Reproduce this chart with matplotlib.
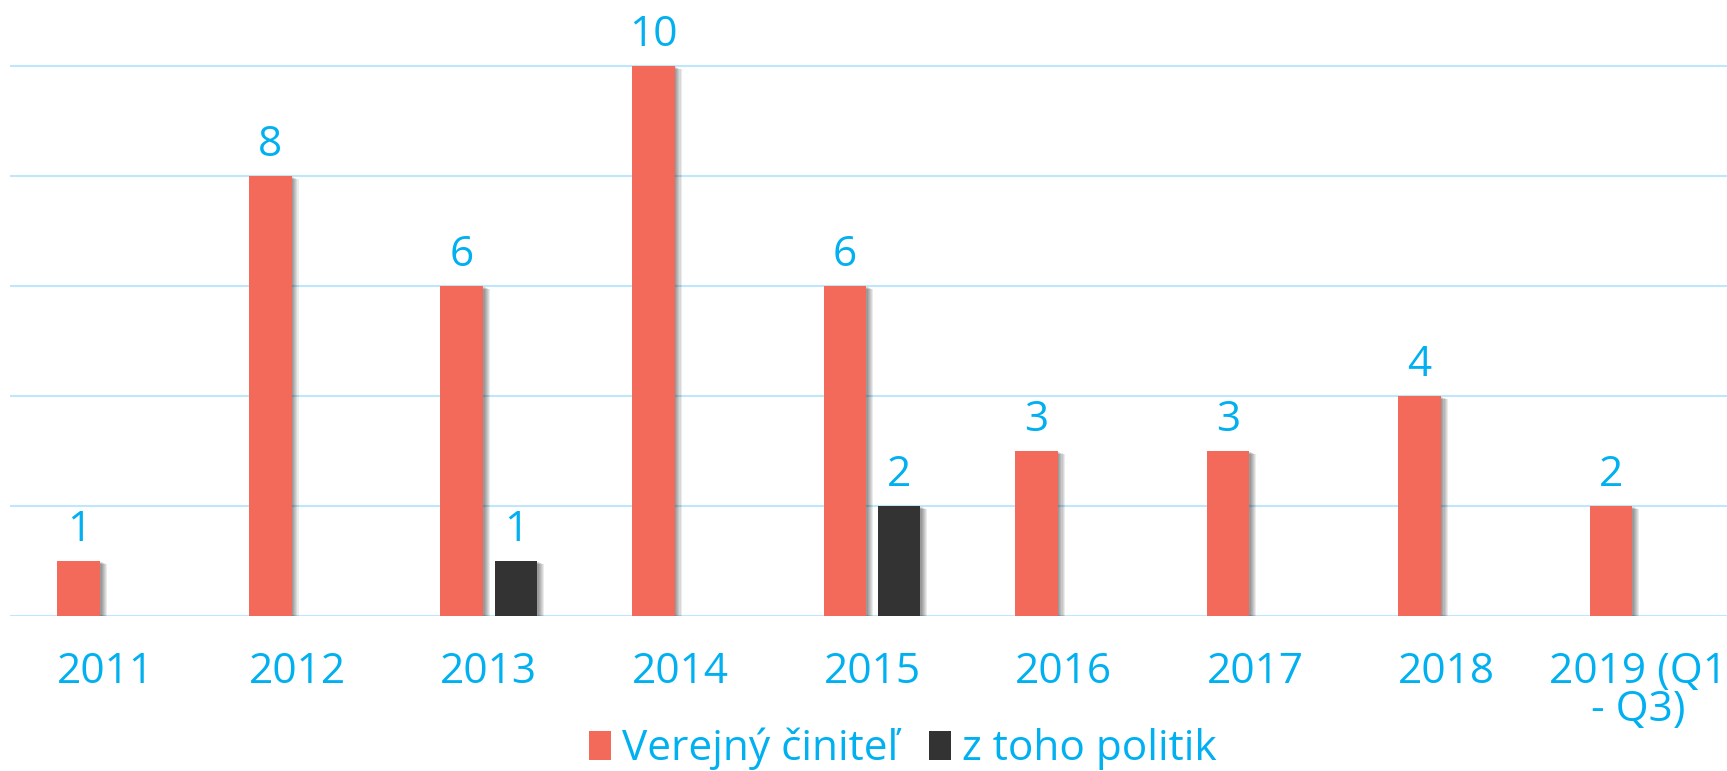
import matplotlib
matplotlib.use("Agg")
import matplotlib.pyplot as plt
import matplotlib.patheffects as pe
from matplotlib.patches import Patch
import numpy as np

categories = ["2011", "2012", "2013", "2014", "2015", "2016", "2017", "2018", "2019 (Q1\n- Q3)"]
verejny = [1, 8, 6, 10, 6, 3, 3, 4, 2]
politik = [0, 0, 1, 0, 2, 0, 0, 0, 0]
series_names = ["Verejný činiteľ", "z toho politik"]

RED = "#F36A5B"
DARK = "#333333"
BLUE = "#00B0F0"
GRID = "#BFE6FA"

plt.rcParams['font.family'] = ['Open Sans', 'DejaVu Sans']

fig = plt.figure(figsize=(17.27, 7.71), dpi=100)
ax = fig.add_axes([10 / 1727, 1 - 616 / 771, 1 - 10 / 1727, 616 / 771])

x = np.arange(len(categories))
w = 0.223
off = 0.141

shadow = [pe.SimplePatchShadow(offset=(o, -o * 0.5), shadow_rgbFace="#000000", alpha=0.08)
          for o in (1.0, 1.8, 2.6, 3.4, 4.2, 5.0)] + [pe.Normal()]

b1 = ax.bar(x - off, verejny, width=w, color=RED, zorder=3, path_effects=shadow)
idx = [i for i, v in enumerate(politik) if v > 0]
b2 = ax.bar(x[idx] + off, [politik[i] for i in idx], width=w, color=DARK, zorder=3,
            path_effects=shadow)

fs = 30.5
ax.bar_label(b1, labels=[str(v) for v in verejny], padding=7.5, color=BLUE, fontsize=fs)
ax.bar_label(b2, labels=[str(politik[i]) for i in idx], padding=7.5, color=BLUE, fontsize=fs)

ax.set_xlim(-0.5, 8.464)
ax.set_ylim(0, 11.2)
ax.set_yticks(range(0, 11, 2))
ax.yaxis.grid(True, color=GRID, linewidth=1.5, zorder=0)
ax.set_axisbelow(True)
ax.tick_params(axis='y', left=False, labelleft=False)
ax.set_xticks(x)
ax.set_xticklabels(categories, color=BLUE, fontsize=fs, multialignment='center',
                   linespacing=0.88)
ax.tick_params(axis='x', length=0, pad=25)
for s in ax.spines.values():
    s.set_visible(False)

handles = [Patch(facecolor=RED), Patch(facecolor=DARK)]
leg = fig.legend(handles, series_names, loc='center', bbox_to_anchor=(903 / 1727, 1 - 749 / 771),
                 ncol=2, frameon=False, fontsize=fs, handlelength=0.52, handleheight=0.66,
                 handletextpad=0.26, columnspacing=0.73, borderpad=0, borderaxespad=0)
for t in leg.get_texts():
    t.set_color(BLUE)

fig.savefig("out.png", dpi=100)
